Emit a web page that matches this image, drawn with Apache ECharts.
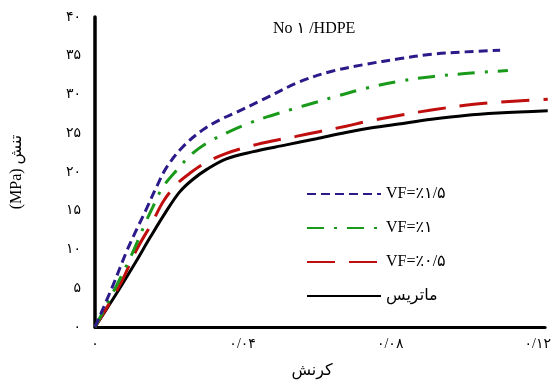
<!DOCTYPE html>
<html><head><meta charset="utf-8">
<script src="https://cdn.jsdelivr.net/npm/echarts@6/dist/echarts.min.js"></script>
<style>html,body{margin:0;padding:0;background:#fff}#c{width:554px;height:388px}</style>
</head><body><div id="c"></div>
<script>
var seriesNames = ['VF=٪۱/۵', 'VF=٪۱', 'VF=٪۰/۵', 'ماتریس'];
var vf15 = [[0,0],[0.0049,5.4],[0.0086,9.8],[0.0110,12.3],[0.0140,15.3],[0.0167,18.1],[0.0194,20.6],[0.0237,23.2],[0.0291,25.4],[0.0337,26.7],[0.0383,27.7],[0.0453,29.3],[0.0553,31.6],[0.0642,33.0],[0.0734,33.9],[0.0823,34.6],[0.0912,35.2],[0.1003,35.5],[0.1098,35.7]];
var vf10 = [[0,0],[0.0059,5.4],[0.0100,9.4],[0.0140,13.8],[0.0162,16.0],[0.0183,18.0],[0.0221,20.2],[0.0262,22.3],[0.0305,23.8],[0.0364,25.2],[0.0418,26.3],[0.0472,27.2],[0.0534,28.1],[0.0599,29.0],[0.0642,29.6],[0.0734,30.8],[0.0823,31.7],[0.0912,32.3],[0.1003,32.7],[0.1119,33.1]];
var vf05 = [[0,0],[0.0067,5.4],[0.0113,10.0],[0.0154,13.4],[0.0185,16.2],[0.0221,18.4],[0.0256,19.8],[0.0300,21.2],[0.0356,22.4],[0.0426,23.4],[0.0480,24.0],[0.0545,24.6],[0.0607,25.2],[0.0680,25.9],[0.0734,26.5],[0.0823,27.3],[0.0912,28.0],[0.1003,28.6],[0.1092,29.0],[0.1227,29.4]];
var matrix = [[0,0],[0.0054,4.0],[0.0108,8.2],[0.0150,11.6],[0.0190,14.7],[0.0229,17.4],[0.0264,19.0],[0.0305,20.4],[0.0356,21.7],[0.0426,22.6],[0.0518,23.5],[0.0600,24.3],[0.0680,25.1],[0.0750,25.7],[0.0823,26.2],[0.0912,26.8],[0.1003,27.3],[0.1092,27.6],[0.1227,27.9]];
var xTicks = [0, 0.04, 0.08, 0.12];
var yTicks = [0, 5, 10, 15, 20, 25, 30, 35, 40];

var FONT = '"Liberation Serif", "DejaVu Sans", serif';
function fa(s){ return String(s).replace(/[0-9]/g, function(d){return '۰۱۲۳۴۵۶۷۸۹'[+d];}).replace(/\./g,'/'); }

var colors = ['#2b1a8a', '#1a9a1a', '#c00d0d', '#000000'];
var dashes = [[9,5], [17,10,3,10], [28,14], 'solid'];
var datas = [vf15, vf10, vf05, matrix];

var chart = echarts.init(document.getElementById('c'), null, {renderer:'canvas'});
chart.setOption({
  animation: false,
  title: {text: 'No ۱ /HDPE', left: 268, top: 16, textStyle: {fontFamily: FONT, fontSize: 16, fontWeight: 'normal', color: '#000'}},
  grid: {left: 95, right: 6, top: 17, bottom: 61},
  legend: {
    orient: 'vertical', left: 306, top: 186, itemWidth: 74, itemHeight: 14, itemGap: 18, padding: 0,
    data: seriesNames,
    itemStyle: {opacity: 0},
    textStyle: {fontFamily: FONT, fontSize: 16, color: '#000'}
  },
  xAxis: {
    type: 'value', min: 0, max: 0.122, interval: 0.04,
    name: 'کرنش', nameLocation: 'middle', nameGap: 36,
    nameTextStyle: {fontFamily: FONT, fontSize: 16, color: '#000', padding: [0, 16, 0, 0]},
    axisLine: {show: true, lineStyle: {color: '#000', width: 3}},
    axisTick: {show: false}, splitLine: {show: false},
    axisLabel: {color: '#000', fontFamily: FONT, fontSize: 14, margin: 10,
      formatter: function(v){ for (var i=0;i<xTicks.length;i++){ if (Math.abs(v-xTicks[i])<1e-9) return fa(xTicks[i]); } return ''; }}
  },
  yAxis: {
    type: 'value', min: 0, max: 40, interval: 5,
    name: '(MPa) تنش', nameLocation: 'middle', nameGap: 70, nameRotate: 90,
    nameTextStyle: {fontFamily: FONT, fontSize: 16, color: '#000'},
    axisLine: {show: true, lineStyle: {color: '#000', width: 3.5}},
    axisTick: {show: false}, splitLine: {show: false},
    axisLabel: {color: '#000', fontFamily: FONT, fontSize: 14, margin: 14,
      formatter: function(v){ return yTicks.indexOf(v) >= 0 ? fa(v) : ''; }}
  },
  series: datas.map(function(d, i){
    return {
      name: seriesNames[i], type: 'line', data: d, symbol: 'none', smooth: 0.35,
      z: 10 - i,
      lineStyle: {color: colors[i], width: 3, type: dashes[i]},
      itemStyle: {color: colors[i]}
    };
  })
});
</script></body></html>
